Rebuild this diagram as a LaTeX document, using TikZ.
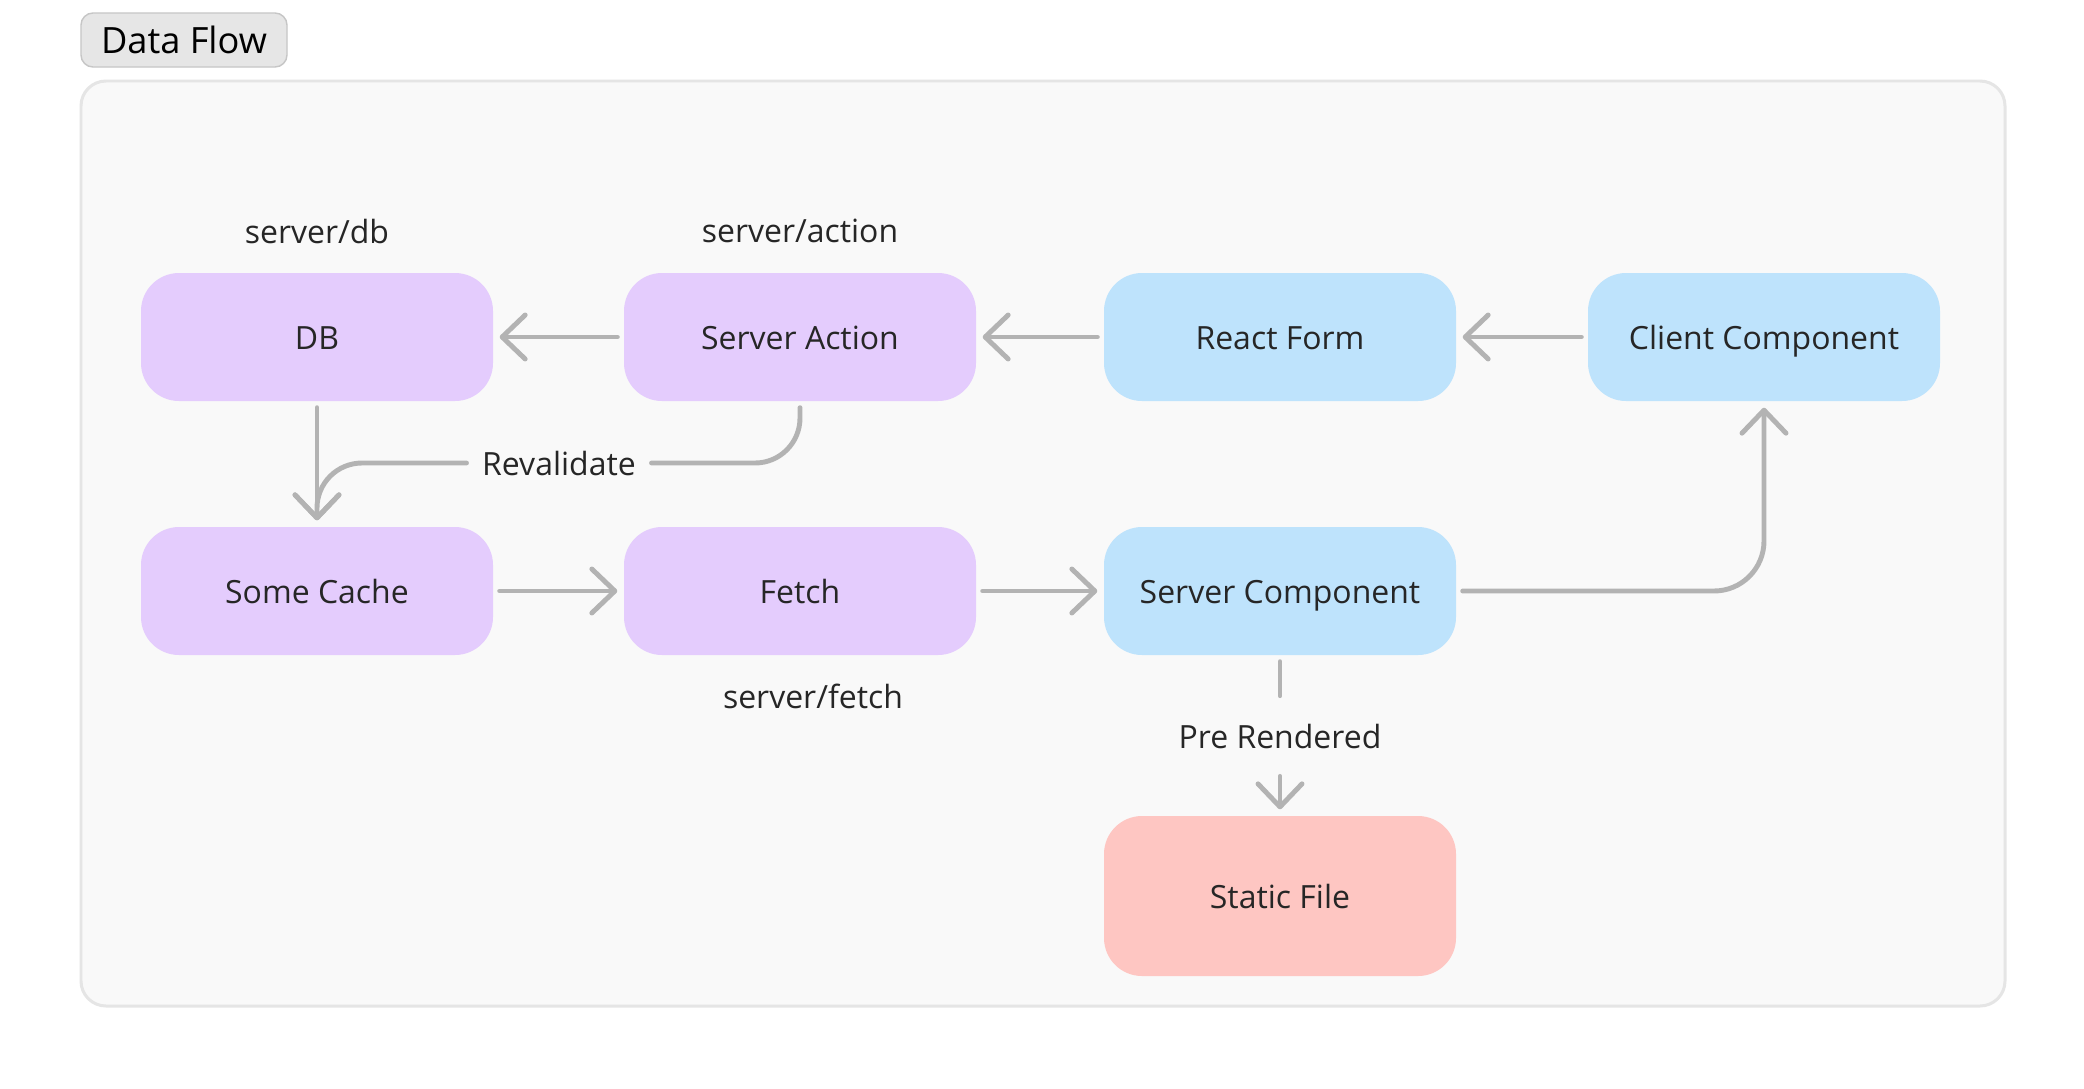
\documentclass[tikz,border=0pt]{standalone}
\usepackage{fontspec}
\setmainfont{Open Sans}
\usepackage{xcolor}
\usetikzlibrary{arrows.meta}
\definecolor{panelfill}{HTML}{F9F9F9}
\definecolor{panelline}{HTML}{E5E5E5}
\definecolor{tagfill}{HTML}{E6E6E6}
\definecolor{tagline}{HTML}{C6C6C6}
\definecolor{purplebox}{HTML}{E4CCFD}
\definecolor{bluebox}{HTML}{BEE3FC}
\definecolor{redbox}{HTML}{FEC6C2}
\definecolor{flowgray}{HTML}{B3B3B3}
\definecolor{inkgray}{HTML}{262626}
\tikzset{
    box/.style={rounded corners=0.38cm, minimum width=3.52cm, minimum height=1.28cm, text=inkgray, text height=0.72em, text depth=0pt, font=\fontsize{9.1}{11}\selectfont},
    flowline/.style={draw=flowgray, line width=1.4pt, line cap=round, shorten >=0.06cm, shorten <=0.06cm},
    flow/.style={flowline, -{Straight Barb[length=0.23cm, width=0.44cm, round]}},
    lab/.style={text=inkgray, font=\fontsize{9.1}{11}\selectfont},
}

\begin{document}
\begin{tikzpicture}
    \newcommand\colA{3.17}
    \newcommand\colB{8.00}
    \newcommand\colC{12.80}
    \newcommand\colD{17.64}
    \newcommand\rowA{-3.37}
    \newcommand\rowB{-5.91}
    \newcommand\rowC{-8.96}

    \useasboundingbox[fill=white] (0, 0) rectangle (20.84, -10.88);
    \draw[panelline, fill=panelfill, line width=0.85pt, rounded corners=0.25cm] (0.81, -0.81) rectangle (20.05, -10.06);
    \node[draw=tagline, fill=tagfill, rounded corners=0.12cm, minimum width=2.06cm, minimum height=0.54cm, font=\fontsize{10.3}{12}\selectfont, text=black] (tag) at (1.84, -0.40){Data Flow};

    \node[box, fill=purplebox] (DB) at (\colA, \rowA){DB};
    \node[box, fill=purplebox] (SA) at (\colB, \rowA){Server Action};
    \node[box, fill=bluebox] (RF) at (\colC, \rowA){React Form};
    \node[box, fill=bluebox] (CC) at (\colD, \rowA){Client Component};
    \node[box, fill=purplebox] (SC) at (\colA, \rowB){Some Cache};
    \node[box, fill=purplebox] (FE) at (\colB, \rowB){Fetch};
    \node[box, fill=bluebox] (SComp) at (\colC, \rowB){Server Component};
    \node[box, fill=redbox, minimum height=1.60cm] (SF) at (\colC, \rowC){Static File};

    \node[lab] (labDB) at (\colA, -2.31){server/db};
    \node[lab] (labSA) at (\colB, -2.31){server/action};
    \node[lab] (labFE) at (8.13, -6.96){server/fetch};
    \node[lab, inner xsep=0.09cm] (rev) at (5.59, -4.63){Revalidate};
    \node[lab, text height=0.72em, text depth=0pt, inner ysep=0.21cm] (pre) at (\colC, -7.36){Pre Rendered};

    \draw[flow] (SA) -- (DB);
    \draw[flow] (RF) -- (SA);
    \draw[flow] (CC) -- (RF);
    \draw[flow] (DB) -- (SC);
    \draw[flow] (SC) -- (FE);
    \draw[flow] (FE) -- (SComp);
    \draw[flowline, rounded corners=0.45cm] (SA.south) |- (rev.east);
    \draw[flow, rounded corners=0.45cm] (rev.west) -| (SC.north);
    \draw[flow, rounded corners=0.5cm] (SComp.east) -| (CC.south);
    \draw[flowline] (SComp.south) -- (pre.north);
    \draw[flow] (pre.south) -- (SF.north);
\end{tikzpicture}
\end{document}
